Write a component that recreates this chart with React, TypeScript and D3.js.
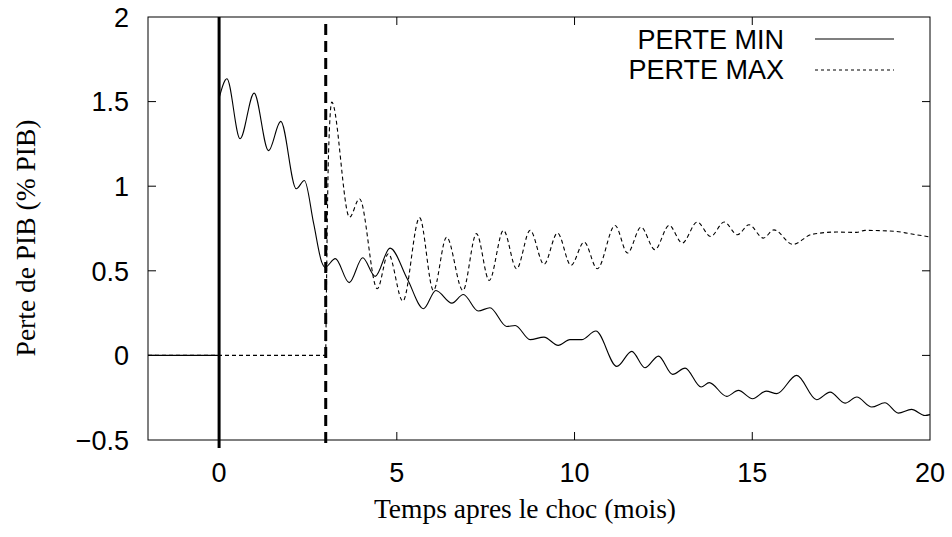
import React from "react";
import * as d3 from "d3";

const xTicks = [0, 5, 10, 15, 20];
const yTicks = [2, 1.5, 1, 0.5, 0, -0.5];
const yTickLabels = ["2", "1.5", "1", "0.5", "0", "\u22120.5"];

// PERTE MIN: flat before shock, then oscillating response
const minFlatT = [-2, 0, 0];
const minFlatV = [0, 0, 1.52];
const minT = [0, 0.22, 0.59, 0.985, 1.39, 1.735, 2.17, 2.4, 2.66, 2.89, 2.98, 3.27, 3.66, 4.04, 4.39, 4.81, 5.3, 5.75, 6.1, 6.55, 6.87, 7.29, 7.62, 8.09, 8.33, 8.75, 9.14, 9.54, 9.87, 10.2, 10.6, 11.19, 11.61, 11.98, 12.36, 12.76, 13.11, 13.56, 13.79, 14.28, 14.61, 15.01, 15.39, 15.69, 16.25, 16.81, 17.19, 17.61, 17.94, 18.36, 18.73, 19.11, 19.48, 19.86, 20];
const minV = [1.52, 1.635, 1.28, 1.55, 1.21, 1.383, 0.985, 1.034, 0.78, 0.55, 0.52, 0.572, 0.43, 0.577, 0.467, 0.634, 0.45, 0.276, 0.384, 0.309, 0.36, 0.262, 0.282, 0.171, 0.177, 0.093, 0.108, 0.059, 0.093, 0.093, 0.144, -0.065, 0.024, -0.073, -0.004, -0.112, -0.075, -0.187, -0.161, -0.242, -0.207, -0.256, -0.211, -0.226, -0.118, -0.262, -0.217, -0.282, -0.246, -0.305, -0.28, -0.341, -0.319, -0.355, -0.35];

// PERTE MAX: flat until month 3, then oscillating response
const maxFlatT = [-2, 3];
const maxFlatV = [0, 0];
const maxT = [3.0, 3.08, 3.17, 3.67, 3.95, 4.45, 4.76, 5.17, 5.64, 6.03, 6.4, 6.86, 7.24, 7.6, 8.0, 8.37, 8.75, 9.14, 9.52, 9.9, 10.27, 10.64, 11.14, 11.49, 11.87, 12.26, 12.66, 13.03, 13.45, 13.83, 14.21, 14.58, 14.91, 15.31, 15.61, 16.14, 16.67, 17.37, 17.94, 18.17, 19.02, 19.44, 20];
const maxV = [0, 1.2, 1.497, 0.817, 0.926, 0.394, 0.601, 0.321, 0.814, 0.384, 0.699, 0.384, 0.72, 0.443, 0.739, 0.512, 0.739, 0.538, 0.723, 0.532, 0.67, 0.512, 0.768, 0.605, 0.758, 0.625, 0.768, 0.664, 0.788, 0.703, 0.788, 0.713, 0.772, 0.693, 0.742, 0.656, 0.715, 0.729, 0.727, 0.739, 0.733, 0.719, 0.70];

const shockT = 0;
const secondShockT = 3;
const legendLabels = ["PERTE MIN", "PERTE MAX"];

const W = 952, H = 537;
const L = 148, R = 930, T = 17, B = 440;

export default function App() {
  const x = d3.scaleLinear().domain([-2, 20]).range([L, R]);
  const y = d3.scaleLinear().domain([-0.5, 2]).range([B, T]);

  const zip = (ts: number[], vs: number[]) => ts.map((t, i) => [t, vs[i]] as [number, number]);
  const lin = d3.line<[number, number]>().x(d => x(d[0])).y(d => y(d[1]));
  const smooth = d3.line<[number, number]>().x(d => x(d[0])).y(d => y(d[1])).curve(d3.curveMonotoneX);

  const sans = "'Liberation Sans', Arial, sans-serif";
  const serif = "'Liberation Serif', 'Times New Roman', serif";

  return (
    <svg width={W} height={H} style={{ position: "absolute", left: 0, top: 0, background: "#fff" }}>
      <rect x={0} y={0} width={W} height={H} fill="#fff" />
      {/* frame */}
      <rect x={L} y={T} width={R - L} height={B - T} fill="none" stroke="#000" strokeWidth={1} />
      {/* y ticks */}
      {yTicks.map((v, i) => (
        <g key={"y" + i}>
          {v > -0.5 && v < 2 && (
            <>
              <line x1={L} x2={L + 8} y1={y(v)} y2={y(v)} stroke="#000" />
              <line x1={R - 8} x2={R} y1={y(v)} y2={y(v)} stroke="#000" />
            </>
          )}
          <text x={129} y={y(v)} dy="0.36em" textAnchor="end" fontFamily={sans} fontSize={27}>{yTickLabels[i]}</text>
        </g>
      ))}
      {/* x ticks */}
      {xTicks.map((t, i) => (
        <g key={"x" + i}>
          {t > 0 && t < 20 && (
            <>
              <line x1={x(t)} x2={x(t)} y1={B} y2={B - 8} stroke="#000" />
              <line x1={x(t)} x2={x(t)} y1={T} y2={T + 8} stroke="#000" />
            </>
          )}
          <text x={x(t)} y={482} textAnchor="middle" fontFamily={sans} fontSize={27}>{t}</text>
        </g>
      ))}
      {/* shock lines */}
      <line x1={x(shockT)} x2={x(shockT)} y1={T} y2={448} stroke="#000" strokeWidth={3} />
      <line x1={x(secondShockT)} x2={x(secondShockT)} y1={24} y2={448} stroke="#000" strokeWidth={3} strokeDasharray="11,6" />
      {/* series */}
      <path d={lin(zip(minFlatT, minFlatV)) || ""} fill="none" stroke="#000" strokeWidth={1.1} />
      <path d={smooth(zip(minT, minV)) || ""} fill="none" stroke="#000" strokeWidth={1.1} />
      <path d={lin(zip(maxFlatT, maxFlatV)) || ""} fill="none" stroke="#000" strokeWidth={1.1} strokeDasharray="4,3" />
      <path d={smooth(zip(maxT, maxV)) || ""} fill="none" stroke="#000" strokeWidth={1.1} strokeDasharray="4,3" />
      {/* legend */}
      <text x={784} y={49} textAnchor="end" fontFamily={sans} fontSize={27}>{legendLabels[0]}</text>
      <line x1={815} x2={894} y1={39} y2={39} stroke="#000" strokeWidth={1.1} />
      <text x={784} y={79} textAnchor="end" fontFamily={sans} fontSize={27}>{legendLabels[1]}</text>
      <line x1={815} x2={894} y1={70} y2={70} stroke="#000" strokeWidth={1.1} strokeDasharray="3,3" />
      {/* axis titles */}
      <text x={525} y={518} textAnchor="middle" fontFamily={serif} fontSize={27.5}>Temps apres le choc (mois)</text>
      <text transform={`translate(35,${238}) rotate(-90)`} textAnchor="middle" fontFamily={serif} fontSize={27.5}>Perte de PIB (% PIB)</text>
    </svg>
  );
}
